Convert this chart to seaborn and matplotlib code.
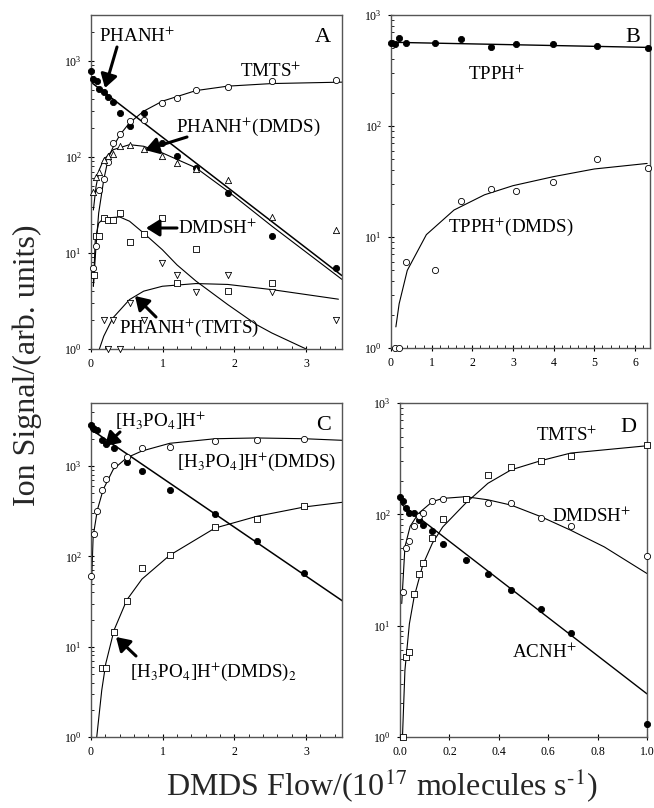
import numpy as np
import pandas as pd
import matplotlib
matplotlib.use("Agg")
import matplotlib.pyplot as plt
import matplotlib.ticker as mticker
import seaborn as sns

# ---------------- Panel A data ----------------
a_x = [0.0, 0.033, 0.08, 0.117, 0.178, 0.243, 0.313, 0.407, 0.537, 0.734, 0.995, 1.20, 1.463, 1.907, 2.523, 3.42]
a_phanh = [780, 640, 624, 510, 472, 422, 374, 287, 208, 287, 140, 102, 77, 42, 15, 7]
a_tmts_x = [0.033, 0.07, 0.107, 0.178, 0.234, 0.313, 0.407, 0.537, 0.734, 0.995, 1.20, 1.463, 1.907, 2.523, 3.42]
a_tmts = [7, 11.9, 45.7, 59, 89, 140, 175, 235, 245, 365, 412, 494, 532, 614, 629]
a_pdmds_x = [0.033, 0.07, 0.107, 0.178, 0.243, 0.313, 0.407, 0.537, 0.734, 0.995, 1.20, 1.463, 1.907, 2.523, 3.42]
a_pdmds = [43, 62, 69, 92, 102, 108, 129, 132, 122, 103, 87, 75, 58, 23.7, 17.2]
a_dmdsh_x = [0.047, 0.07, 0.117, 0.178, 0.243, 0.313, 0.407, 0.537, 0.734, 0.995, 1.20, 1.463, 1.907, 2.523]
a_dmdsh = [5.9, 14.9, 14.9, 23, 21.9, 21.9, 26, 12.9, 15.9, 23, 4.9, 11, 4.0, 4.9]
a_ptmts_x = [0.178, 0.243, 0.313, 0.407, 0.537, 0.734, 0.995, 1.20, 1.463, 1.907, 2.523, 3.42]
a_ptmts = [2.0, 1.0, 2.0, 1.0, 3.0, 2.0, 7.9, 5.85, 3.9, 5.85, 3.9, 2.0]
# fitted curves
a_fit_phanh_x = [0.0, 3.5]
a_fit_phanh = [600, 5.8]
a_fit_tmts_x = [0.033, 0.07, 0.107, 0.178, 0.243, 0.313, 0.407, 0.537, 0.734, 0.995, 1.463, 1.907, 2.523, 3.5]
a_fit_tmts = [4.5, 11.8, 26, 58, 98, 129, 171, 226, 299, 380, 490, 545, 580, 600]
a_fit_pdmds_x = [0.033, 0.07, 0.117, 0.178, 0.313, 0.537, 0.734, 0.995, 1.463, 1.907, 2.523, 3.5]
a_fit_pdmds = [28, 49, 74, 94, 119, 134, 129, 110, 77, 44, 19, 5.3]
a_fit_dmdsh_x = [0.033, 0.06, 0.107, 0.178, 0.4, 0.537, 0.734, 0.995, 1.2, 1.463, 1.907, 2.31, 2.52, 3.0]
a_fit_dmdsh = [4.5, 13.8, 20.4, 23, 23.7, 21.4, 16.1, 10.8, 7.5, 5.1, 2.9, 1.79, 1.47, 1.0]
a_fit_ptmts_x = [0.117, 0.178, 0.304, 0.537, 0.734, 0.995, 1.463, 1.907, 2.523, 3.45]
a_fit_ptmts = [1.0, 1.36, 2.1, 3.27, 4.0, 4.5, 4.8, 4.7, 4.15, 3.3]

# ---------------- Panel B data ----------------
b_x = [0.0, 0.106, 0.188, 0.376, 1.07, 1.72, 2.45, 3.07, 3.99, 5.06, 6.33]
b_tpph = [564, 548, 625, 556, 556, 604, 512, 545, 552, 526, 501]
b_tdmds_x = [0.106, 0.188, 0.376, 1.07, 1.72, 2.45, 3.07, 3.99, 5.06, 6.33]
b_tdmds = [1.0, 1.0, 6.0, 5.05, 21.1, 27, 26.1, 31.3, 50.1, 42.2]
b_fit_tpph_x = [0.0, 6.37]
b_fit_tpph = [568, 510]
b_fit_tdmds_x = [0.12, 0.2, 0.4, 0.87, 1.55, 2.3, 3.0, 4.0, 5.0, 6.3]
b_fit_tdmds = [1.55, 2.5, 5.0, 10.5, 17.5, 24, 29, 35, 41, 46]

# ---------------- Panel C data ----------------
c_x = [0.0, 0.023, 0.042, 0.089, 0.15, 0.206, 0.322, 0.5, 0.71, 1.098, 1.729, 2.313, 2.977]
c_h3po4 = [2830, 2670, 2600, 2512, 1963, 1755, 1600, 1108, 887, 541, 295, 147, 66]
c_dmds = [60, 179, 321, 537, 723, 1035, 1259, 1572, 1625, 1895, 1928, 2013]
c_dmds_x = [0.0, 0.042, 0.089, 0.15, 0.206, 0.322, 0.5, 0.71, 1.098, 1.729, 2.313, 2.977]
c_dmds2_x = [0.15, 0.206, 0.322, 0.5, 0.71, 1.098, 1.729, 2.313, 2.977]
c_dmds2 = [5.85, 5.85, 14.7, 32.4, 73.6, 103.5, 210, 262, 359]
c_fit_h3po4_x = [0.0, 3.51]
c_fit_h3po4 = [2550, 32]
c_fit_dmds_x = [0.0, 0.03, 0.09, 0.17, 0.31, 0.5, 0.71, 1.1, 1.73, 2.31, 2.98, 3.51]
c_fit_dmds = [33, 167, 330, 550, 920, 1240, 1470, 1790, 2010, 2050, 2010, 1930]
c_fit_dmds2_x = [0.08, 0.15, 0.206, 0.322, 0.5, 0.71, 1.098, 1.729, 2.313, 2.977, 3.51]
c_fit_dmds2 = [1.0, 3.3, 6.5, 15.3, 33, 56, 103, 206, 278, 353, 398]

# ---------------- Panel D data ----------------
d_x = [0.0, 0.011, 0.024, 0.038, 0.057, 0.075, 0.092, 0.131, 0.173, 0.266, 0.356, 0.450, 0.572, 0.691, 1.0]
d_acnh = [142, 133, 114, 102, 102, 89, 80, 71, 54, 39, 29, 21, 14, 8.6, 1.31]
d_o_x = [0.011, 0.024, 0.038, 0.057, 0.075, 0.092, 0.131, 0.173, 0.266, 0.356, 0.450, 0.572, 0.691, 1.0]
d_dmdsh = [20.1, 49.4, 58, 79, 96.6, 102, 133, 136, 136, 127, 126, 92, 79, 42.5]
d_tmts = [1.0, 5.2, 5.8, 19.1, 29.4, 36.2, 61.7, 90, 136, 226, 268, 304, 336, 419]
d_fit_acnh_x = [0.0, 1.0]
d_fit_acnh = [126, 2.44]
d_fit_dmdsh_x = [0.007, 0.02, 0.041, 0.075, 0.131, 0.173, 0.266, 0.356, 0.45, 0.572, 0.691, 0.827, 1.0]
d_fit_dmdsh = [15.8, 51, 78, 102, 130, 139, 144, 135, 121, 95, 72, 51, 29.4]
d_fit_tmts_x = [0.01, 0.02, 0.038, 0.057, 0.092, 0.131, 0.173, 0.266, 0.356, 0.45, 0.572, 0.691, 1.0]
d_fit_tmts = [1.0, 4.0, 10.4, 18, 35, 55, 77, 126, 190, 251, 304, 355, 413]

# ---------------- styling ----------------
sns.set_theme(style="ticks")
plt.rcParams["font.family"] = ["Liberation Serif", "DejaVu Serif"]
plt.rcParams["mathtext.fontset"] = "stix"

W, H = 654, 808
fig = plt.figure(figsize=(W / 100, H / 100), dpi=100)


def px_axes(left, top, right, bottom):
    return fig.add_axes([left / W, 1 - bottom / H, (right - left) / W, (bottom - top) / H])


axA = px_axes(91, 15, 342, 349)
axB = px_axes(391, 15, 650, 348)
axC = px_axes(91, 403, 342, 737)
axD = px_axes(400, 403, 647, 737)

MS = 20


def pts(ax, x, y, marker, filled):
    sns.scatterplot(x=x, y=y, ax=ax, marker=marker, s=MS,
                    color="black" if filled else "white",
                    edgecolor="black", linewidth=0.6, clip_on=False, zorder=3, legend=False)


def fit(ax, x, y, lw=0.8):
    sns.lineplot(x=x, y=y, ax=ax, color="black", linewidth=lw, sort=False,
                 estimator=None, legend=False, zorder=2)


# Panel A
fit(axA, a_fit_phanh_x, a_fit_phanh, 1.1)
fit(axA, a_fit_tmts_x, a_fit_tmts)
fit(axA, a_fit_pdmds_x, a_fit_pdmds)
fit(axA, a_fit_dmdsh_x, a_fit_dmdsh)
fit(axA, a_fit_ptmts_x, a_fit_ptmts)
pts(axA, a_x, a_phanh, "o", True)
pts(axA, a_tmts_x, a_tmts, "o", False)
pts(axA, a_pdmds_x, a_pdmds, "^", False)
pts(axA, a_dmdsh_x, a_dmdsh, "s", False)
pts(axA, a_ptmts_x, a_ptmts, "v", False)

# Panel B
fit(axB, b_fit_tpph_x, b_fit_tpph, 1.0)
fit(axB, b_fit_tdmds_x, b_fit_tdmds)
pts(axB, b_x, b_tpph, "o", True)
pts(axB, b_tdmds_x, b_tdmds, "o", False)

# Panel C
fit(axC, c_fit_h3po4_x, c_fit_h3po4, 1.1)
fit(axC, c_fit_dmds_x, c_fit_dmds)
fit(axC, c_fit_dmds2_x, c_fit_dmds2)
pts(axC, c_x, c_h3po4, "o", True)
pts(axC, c_dmds_x, c_dmds, "o", False)
pts(axC, c_dmds2_x, c_dmds2, "s", False)

# Panel D
fit(axD, d_fit_acnh_x, d_fit_acnh, 1.0)
fit(axD, d_fit_dmdsh_x, d_fit_dmdsh)
fit(axD, d_fit_tmts_x, d_fit_tmts)
pts(axD, d_x, d_acnh, "o", True)
pts(axD, d_o_x, d_dmdsh, "o", False)
pts(axD, d_o_x, d_tmts, "s", False)

limits = {axA: ((0, 3.5), (1, 3000)), axB: ((0, 6.37), (1, 1000)),
          axC: ((0, 3.5), (1, 5000)), axD: ((0, 1.0), (1, 1000))}
for ax, (xl, yl) in limits.items():
    ax.set_yscale("log")
    ax.set_xlim(*xl)
    ax.set_ylim(*yl)
    ax.set_xlabel("")
    ax.set_ylabel("")
    ax.yaxis.set_major_locator(mticker.LogLocator(base=10, numticks=10))
    ax.yaxis.set_minor_locator(mticker.LogLocator(base=10, subs=np.arange(2, 10), numticks=10))
    ax.yaxis.set_minor_formatter(mticker.NullFormatter())
    for sp in ax.spines.values():
        sp.set_visible(True)
        sp.set_color("#555555")
        sp.set_linewidth(1.0)
    ax.tick_params(which="major", direction="inout", length=5, width=0.8, labelsize=8.5, colors="black", pad=4)
    ax.tick_params(which="minor", direction="in", length=2.5, width=0.7)
    ax.patch.set_facecolor("white")

for ax in (axA, axB, axC):
    ax.xaxis.set_major_locator(mticker.MultipleLocator(1))
    ax.xaxis.set_minor_locator(mticker.MultipleLocator(0.2))
    ax.xaxis.set_major_formatter(mticker.FormatStrFormatter("%d"))
axD.xaxis.set_major_locator(mticker.MultipleLocator(0.2))
axD.xaxis.set_minor_locator(mticker.NullLocator())
axD.xaxis.set_major_formatter(mticker.FormatStrFormatter("%.1f"))

# ---------------- labels ----------------
FS = 13.7


def label(px, py_base, s, size=FS):
    fig.text(px / W, 1 - py_base / H, s, fontsize=size, ha="left", va="baseline", color="black")


def arrow(tail, tip):
    fig.add_artist(matplotlib.patches.FancyArrowPatch(
        posA=(tail[0] / W, 1 - tail[1] / H), posB=(tip[0] / W, 1 - tip[1] / H),
        transform=fig.transFigure, arrowstyle="-|>,head_length=8,head_width=5",
        linewidth=2.2, color="black", shrinkA=0, shrinkB=0, mutation_scale=1))


label(99, 42, r"PHANH$^{+}$")
label(315, 42, "A", 16)
label(240, 77, r"TMTS$^{+}$")
label(176, 132, r"PHANH$^{+}$(DMDS)")
label(178, 234, r"DMDSH$^{+}$")
label(119, 333, r"PHANH$^{+}$(TMTS)")
arrow((117, 47), (105, 88))
arrow((187, 137), (145, 150))
arrow((177, 228), (146, 228))
arrow((156, 317), (135, 296))

label(625, 42, "B", 16)
label(468, 80, r"TPPH$^{+}$")
label(448, 232, r"TPPH$^{+}$(DMDS)")

label(115, 427, r"[H$_3$PO$_4$]H$^{+}$")
label(316, 430, "C", 16)
label(177, 467, r"[H$_3$PO$_4$]H$^{+}$(DMDS)")
label(130, 677, r"[H$_3$PO$_4$]H$^{+}$(DMDS)$_2$")
arrow((120, 432), (105, 446))
arrow((136, 656), (116, 637))

label(620, 432, "D", 16)
label(536, 441, r"TMTS$^{+}$")
label(552, 522, r"DMDSH$^{+}$")
label(512, 658, r"ACNH$^{+}$")

fig.text(27 / W, 1 - 365 / H, "Ion Signal/(arb. units)", fontsize=23, rotation=90,
         ha="center", va="center")
fig.text(382 / W, 1 - 785 / H, r"DMDS Flow/(10$^{17}$ molecules s$^{\text{-}1}$)", fontsize=23,
         ha="center", va="center")

fig.savefig("out.png", dpi=100)
